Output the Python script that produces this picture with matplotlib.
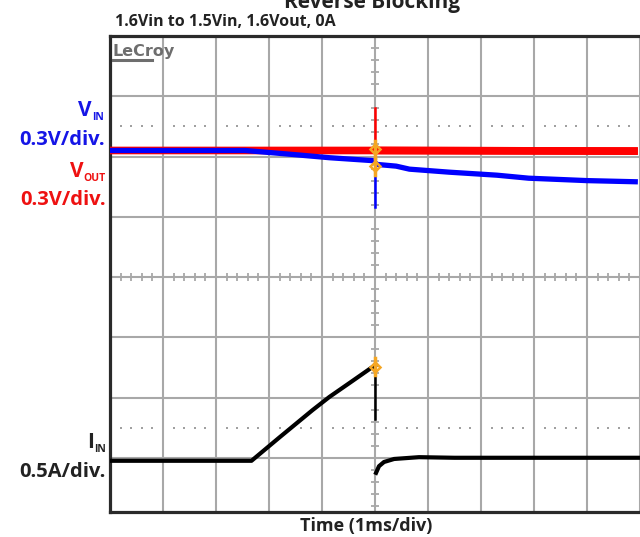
import numpy as np
import matplotlib
matplotlib.use('Agg')
import matplotlib.pyplot as plt

plt.rcParams['font.family'] = ['Open Sans', 'DejaVu Sans']

# scope traces, time in ms (1ms/div, 0 = trigger), amplitude in divisions
vin_t = [-5, -2.45, -1.5, -0.86, -0.02, 0, 0.02, 0.4, 0.65, 1.4, 2.3, 2.9, 4.0, 4.96]
vin_v = [2.1, 2.1, 2.03, 1.98, 1.93, 1.9, 1.87, 1.84, 1.79, 1.74, 1.69, 1.64, 1.60, 1.58]
vin_spike = [1.93, 1.16]

vout_t = [-5, 0, 4.96]
vout_v = [2.1, 2.1, 2.09]
vout_spike = [2.1, 2.8]

iin_t = [-5, -2.33, -1.8, -1.18, -0.86, -0.45, -0.075, 0, np.nan,
         0.02, 0.075, 0.17, 0.36, 0.83, 1.5, 4.96]
iin_a = [-3.05, -3.05, -2.66, -2.21, -1.99, -1.74, -1.51, -1.47, np.nan,
         -3.25, -3.14, -3.07, -3.02, -2.99, -3.0, -3.0]
iin_spike = [-1.47, -2.35]

marker_t = [0, 0, 0]
marker_v = [2.12, 1.84, -1.49]

fig = plt.figure(figsize=(6.4, 5.37), dpi=100)
ax = fig.add_axes([110 / 640, 1 - 512 / 537, 530 / 640, 476 / 537])
ax.set_xlim(-5, -5 + 530 / 53.2)
ax.set_ylim(-3.9, 4.0)

# graticule
gcol = '#a8a8a8'
ax.set_xticks(range(-5, 6))
ax.set_yticks(range(-3, 5))
ax.grid(True, color=gcol, lw=1.5, zorder=1)
ax.tick_params(length=0, labelbottom=False, labelleft=False)
for s in ['left', 'top', 'bottom']:
    ax.spines[s].set_color('#2a2a2a')
    ax.spines[s].set_linewidth(2.3)
ax.spines['right'].set_visible(False)

# center axis tick marks
minor = [m for m in np.arange(-5, 5.01, 0.2) if abs(m - round(m)) > 0.01]
ax.vlines(minor, -0.065, 0.065, color=gcol, lw=1.3, zorder=1)
minor_y = [m for m in np.arange(-3.8, 4.0, 0.2) if abs(m - round(m)) > 0.01]
ax.hlines(minor_y, -0.075, 0.075, color=gcol, lw=1.3, zorder=1)

# dotted rows
dots = [m for m in np.arange(-4.8, 5.0, 0.2) if abs(m - round(m)) > 0.01]
for yy in [2.5, -2.5]:
    ax.plot(dots, [yy] * len(dots), ls='none', marker='s', ms=1.5,
            color='#a0a0a0', mew=0, zorder=1)

# traces
ax.plot(vout_t, vout_v, color='#ff0000', lw=5.5, solid_capstyle='butt', zorder=3)
ax.plot(vin_t, vin_v, color='#0000ff', lw=3.8, solid_capstyle='butt', zorder=4)
ax.plot(vout_t[1:], vout_v[1:], color='#ff0000', lw=5.5, solid_capstyle='butt', zorder=5)
ax.plot([0, 0], vout_spike, color='#ff0000', lw=1.8, zorder=5)
ax.plot([0, 0], vin_spike, color='#0000ff', lw=1.8, zorder=5)
ax.plot(iin_t, iin_a, color='#000000', lw=3, zorder=4)
ax.plot([0, 0], iin_spike, color='#000000', lw=1.8, zorder=4)

for t, v in zip(marker_t, marker_v):
    ax.plot([t, t], [v - 0.14, v + 0.14], color='#f5a623', lw=2.5, zorder=6)
    ax.plot(t, v, marker='D', ms=5, mfc='none', mec='#f5a623', mew=1.8, zorder=6)

# LeCroy logo
fig.text(112 / 640, 1 - 56 / 537, 'LeCroy', fontsize=11.5, color='#6e6e6e',
         fontweight='bold', family=['Liberation Sans Narrow', 'DejaVu Sans'])
fig.add_artist(plt.Line2D([113 / 640, 152 / 640], [1 - 60 / 537] * 2,
                          color='#6e6e6e', lw=2.2))

# titles
fig.text(372 / 640, 1 - 8 / 537, 'Reverse Blocking', fontsize=15,
         fontweight='bold', ha='center', va='baseline', color='#222222')
fig.text(115 / 640, 1 - 26 / 537, '1.6Vin to 1.5Vin, 1.6Vout, 0A', fontsize=11.5,
         fontweight='bold', ha='left', va='baseline', color='#222222')

blue = '#1515e6'
red = '#ee1111'


def label(x, y, main, sub, color):
    t = fig.text(x / 640, 1 - y / 537, sub, fontsize=7.5, fontweight='bold',
                 ha='right', va='baseline', color=color)
    fig.canvas.draw()
    bb = t.get_window_extent()
    fig.text((bb.x0 - 0.5) / 640, 1 - (y - 4) / 537, main, fontsize=15,
             fontweight='bold', ha='right', va='baseline', color=color)


label(104, 120, 'V', 'IN', blue)
fig.text(105 / 640, 1 - 145 / 537, '0.3V/div.', fontsize=14.5, fontweight='bold',
         ha='right', va='baseline', color=blue)
label(106, 181, 'V', 'OUT', red)
fig.text(106 / 640, 1 - 205 / 537, '0.3V/div.', fontsize=14.5, fontweight='bold',
         ha='right', va='baseline', color=red)
label(106, 452, 'I', 'IN', '#222222')
fig.text(106 / 640, 1 - 477 / 537, '0.5A/div.', fontsize=14.5, fontweight='bold',
         ha='right', va='baseline', color='#222222')

fig.text(366 / 640, 1 - 531 / 537, 'Time (1ms/div)', fontsize=13,
         fontweight='bold', ha='center', va='baseline', color='#222222')

fig.savefig('out.png', dpi=100)
